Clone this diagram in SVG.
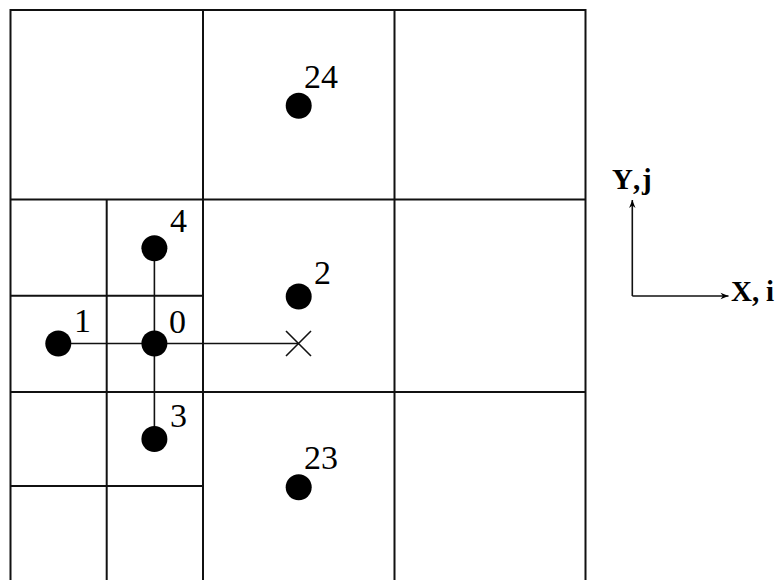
<svg xmlns="http://www.w3.org/2000/svg" width="776" height="580" viewBox="0 0 776 580">
<defs>
<style>
.grid{stroke:#111;stroke-width:2;fill:none}
.conn{stroke:#111;stroke-width:1.6;fill:none}
.dot{fill:#000}
.num{font-family:"Liberation Serif","Times New Roman",serif;font-size:34px;fill:#000}
.ax{font-family:"Liberation Serif","Times New Roman",serif;font-size:29px;font-weight:bold;fill:#000}
</style>
<marker id="ah" viewBox="0 0 10 10" refX="10" refY="5" markerWidth="11" markerHeight="8" markerUnits="userSpaceOnUse" orient="auto">
<path d="M0,1 L10,5 L0,9 L3,5 Z" fill="#000"/>
</marker>
</defs>
<rect width="776" height="580" fill="#fff"/>
<g id="grid" class="grid">
<path d="M10.5,580 V10 H585.5 V580"/>
<path d="M203,10 V580 M394.5,10 V580"/>
<path d="M10.5,199.5 H585.5 M10.5,392 H585.5"/>
<path d="M106.7,199.5 V580"/>
<path d="M10.5,295.7 H203 M10.5,486 H203"/>
</g>
<g id="connectors" class="conn">
<line x1="58.3" y1="343.5" x2="298.5" y2="343.5"/>
<line x1="154.4" y1="248.3" x2="154.4" y2="439"/>
</g>
<g id="node-0"><circle class="dot" cx="154.4" cy="343.5" r="13"/><text class="num" x="169" y="333">0</text></g>
<g id="node-1"><circle class="dot" cx="58.3" cy="343.5" r="13"/><text class="num" x="74" y="332">1</text></g>
<g id="node-2"><circle class="dot" cx="298.7" cy="296.5" r="13"/><text class="num" x="314" y="284">2</text></g>
<g id="node-3"><circle class="dot" cx="154.4" cy="439" r="13"/><text class="num" x="170" y="427">3</text></g>
<g id="node-4"><circle class="dot" cx="154.4" cy="248.3" r="13"/><text class="num" x="170" y="232">4</text></g>
<g id="node-23"><circle class="dot" cx="298.7" cy="487.3" r="13"/><text class="num" x="304" y="469">23</text></g>
<g id="node-24"><circle class="dot" cx="298.7" cy="105.7" r="13"/><text class="num" x="304" y="88">24</text></g>
<g id="node-x"><path class="conn" d="M286,331 L311,356 M311,331 L286,356"/></g>
<g id="axes">
<line class="conn" x1="632.3" y1="296" x2="632.3" y2="200" marker-end="url(#ah)"/>
<line class="conn" x1="632.3" y1="296" x2="728.5" y2="296" marker-end="url(#ah)"/>
<text class="ax" x="612 633 642" y="189">Y,j</text>
<text class="ax" x="731 752 766" y="301">X,i</text>
</g>
</svg>
